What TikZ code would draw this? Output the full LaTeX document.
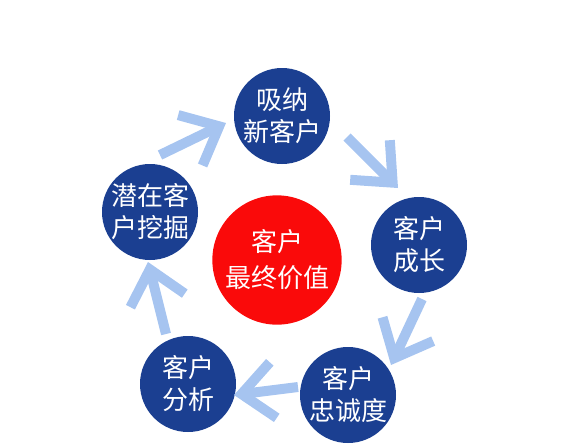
\documentclass[tikz,border=0pt]{standalone}
\usepackage{fontspec}
\newfontfamily\cjk{Noto Sans CJK SC}
\usetikzlibrary{arrows.meta}
\definecolor{navy}{RGB}{27,63,145}
\definecolor{redc}{RGB}{250,10,10}
\definecolor{lblue}{RGB}{166,196,240}
\tikzset{
  stage/.style={circle,fill=navy,minimum size=72pt,inner sep=0pt,text=white,align=center,
    font=\cjk\fontsize{19.5}{24}\selectfont},
  core/.style={circle,fill=redc,minimum size=97pt,inner sep=0pt,text=white,align=center,
    font=\cjk\fontsize{19.5}{27}\selectfont},
  flow/.style={draw=lblue,line width=7.5pt,
    -{Straight Barb[length=24pt,width=42pt,line width=7.5pt]}}
}
\begin{document}
\begin{tikzpicture}[x=0.75pt,y=-0.75pt]
\useasboundingbox (0,0) rectangle (567,447);
\node[core] (center) at (277,260) {客户\\最终价值};
\node[stage] (top) at (282,116) {吸纳\\新客户};
\node[stage] (right) at (419,245) {客户\\成长};
\node[stage] (bright) at (348,395) {客户\\忠诚度};
\node[stage] (bleft) at (188,384) {客户\\分析};
\node[stage] (left) at (150,212) {潜在客\\户挖掘};
\coordinate (a1s) at (160,155); \coordinate (a1e) at (226,123);
\coordinate (a2s) at (347,137); \coordinate (a2e) at (398,188);
\coordinate (a3s) at (422,299); \coordinate (a3e) at (391,365);
\coordinate (a4s) at (298,387); \coordinate (a4e) at (234,395);
\coordinate (a5s) at (166,334); \coordinate (a5e) at (148,262);
\draw[flow] (a1s) -- (a1e);
\draw[flow] (a2s) -- (a2e);
\draw[flow] (a3s) -- (a3e);
\draw[flow] (a4s) -- (a4e);
\draw[flow] (a5s) -- (a5e);
\end{tikzpicture}
\end{document}
